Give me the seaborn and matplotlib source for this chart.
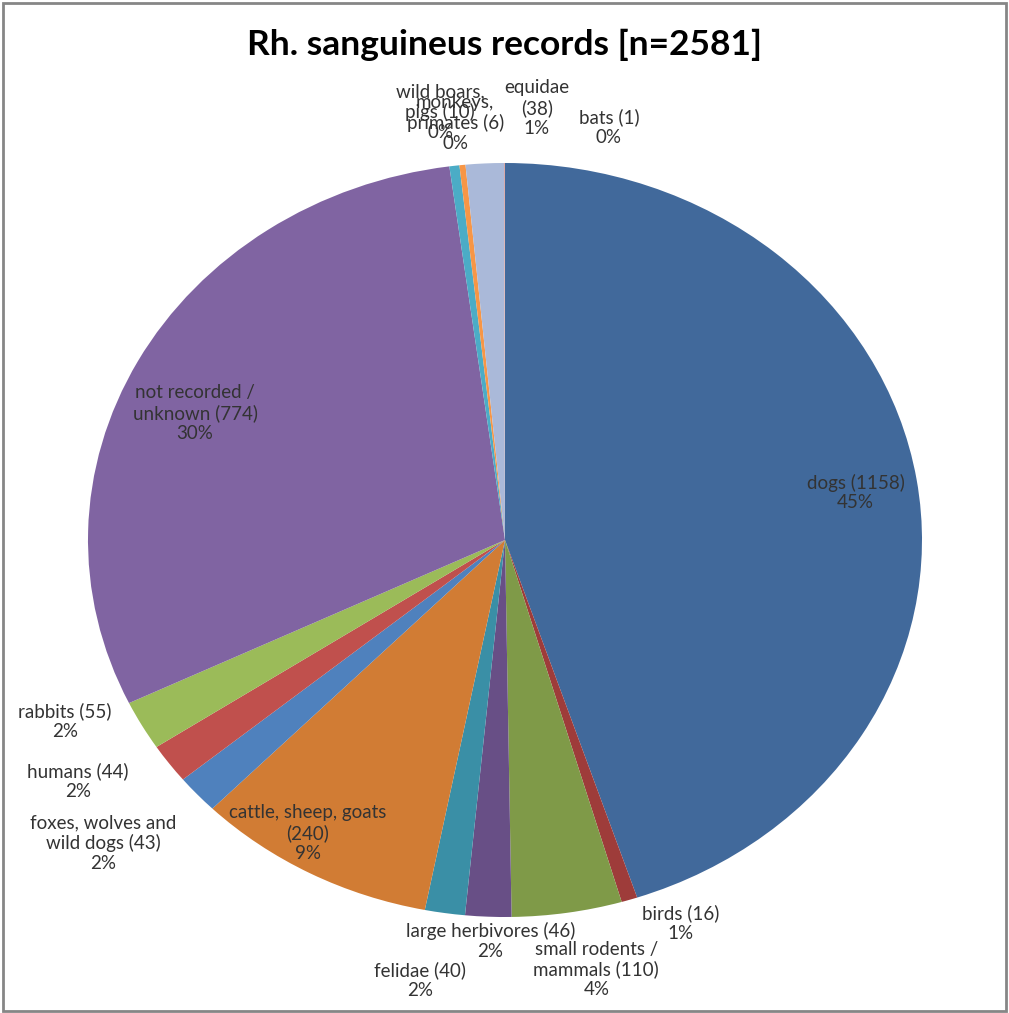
import matplotlib
matplotlib.use("Agg")
import matplotlib.pyplot as plt
from matplotlib.patches import Rectangle
import seaborn as sns
import numpy as np

# ---------------- data ----------------
categories = ["dogs", "birds", "small rodents /\nmammals", "large herbivores", "felidae",
              "cattle, sheep, goats", "foxes, wolves and\nwild dogs", "humans", "rabbits",
              "not recorded /\nunknown", "wild boars,\npigs", "monkeys,\nprimates", "equidae", "bats"]
counts = [1158, 16, 110, 46, 40, 240, 43, 44, 55, 774, 10, 6, 38, 1]
title = "Rh. sanguineus records [n=2581]"

# ---------------- styling / layout ----------------
slice_colors = ["#41699B", "#9E3C3A", "#7F9A48", "#684F86", "#3A8FA6", "#D17C34",
                "#4F81BD", "#C0504D", "#9BBB59", "#8064A2", "#4BACC6", "#F79646",
                "#AAB9D9", "#D9A9A8"]
count_on_new_line = [False, False, False, False, False, True, False, False, False,
                     False, False, False, True, False]
# label placement: (radius factor, angular nudge in degrees) relative to wedge mid-angle
label_layout = [(0.85, -0.7), (1.10, 5.1), (1.16, 2.3), (1.065, 0.4), (1.185, -1.6),
                (0.91, -3.5), (1.255, -2.6), (1.207, -4.4), (1.159, -5.0), (0.816, 3.95),
                (1.146, 0.8), (1.113, 0.3), (1.148, -6.6), (1.123, -12.9)]

sns.set_theme(style="white")
plt.rcParams["font.family"] = ["Lato", "DejaVu Sans"]

W, H = 1009, 1013
fig = plt.figure(figsize=(W / 100, H / 100), dpi=100)
fig.patch.set_facecolor("white")

cx, cy, rx, ry = 505, 540, 417, 377
ax = fig.add_axes([(cx - rx) / W, (H - cy - ry) / H, 2 * rx / W, 2 * ry / H])

palette = sns.color_palette(slice_colors)
wedges, _ = ax.pie(counts, colors=palette, startangle=90, counterclock=False,
                   radius=1, wedgeprops=dict(linewidth=0))
ax.set_aspect("auto")
ax.set_xlim(-1, 1)
ax.set_ylim(-1, 1)
ax.axis("off")

total = sum(counts)
for w, name, c, nl, (rf, dth) in zip(wedges, categories, counts, count_on_new_line, label_layout):
    mid = np.deg2rad((w.theta1 + w.theta2) / 2 + dth)
    pct = round(100 * c / total)
    sep = "\n" if nl else " "
    txt = f"{name}{sep}({c})\n{pct}%"
    ax.text(rf * np.cos(mid), rf * np.sin(mid), txt, ha="center", va="center",
            multialignment="center", fontsize=13.5, color="#333333", linespacing=1.2)

fig.text(0.5, 1 - 45 / H, title, ha="center", va="center", fontsize=25.5,
         fontweight="bold", color="black")

fig.patches.append(Rectangle((2.5 / W, 2.5 / H), (W - 6) / W, (H - 6) / H,
                             transform=fig.transFigure, fill=False,
                             edgecolor="#868686", linewidth=2))

fig.savefig("out.png", dpi=100, facecolor="white")
